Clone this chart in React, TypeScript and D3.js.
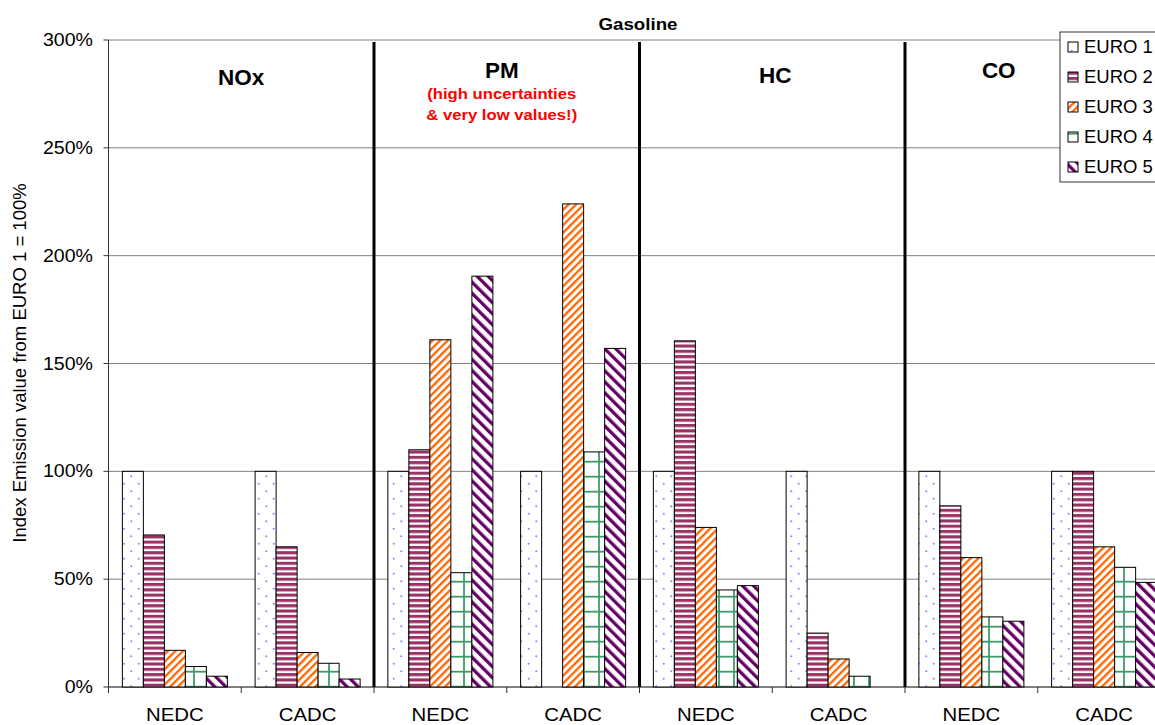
import React from 'react';
import * as d3 from 'd3';

const categories = ['NEDC', 'CADC', 'NEDC', 'CADC', 'NEDC', 'CADC', 'NEDC', 'CADC'];
const groups = ['NOx', 'PM', 'HC', 'CO'];
const series = ['EURO 1', 'EURO 2', 'EURO 3', 'EURO 4', 'EURO 5'];

// % of EURO 1, per category (null = no bar)
const euro1 = [100, 100, 100, 100, 100, 100, 100, 100];
const euro2 = [70.5, 65, 110, null, 160.5, 25, 84, 100];
const euro3 = [17, 16, 161, 224, 74, 13, 60, 65];
const euro4 = [9.5, 11, 53, 109, 45, 5, 32.5, 55.5];
const euro5 = [5, 3.7, 190.5, 157, 47, null, 30.5, 48.5];
const values = [euro1, euro2, euro3, euro4, euro5];

const yTicks = [0, 50, 100, 150, 200, 250, 300];

const font = 'Arial, "Liberation Sans", sans-serif';
const fills = ['url(#p1)', 'url(#p2)', 'url(#p3)', 'url(#p4)', 'url(#p5)'];

// text slightly stretched sideways, like the original export
function SText({ x, y, sx = 1, children, ...rest }: any) {
  return (
    <text transform={`translate(${x},${y}) scale(${sx},1)`} {...rest}>{children}</text>
  );
}

export default function App() {
  const width = 1155;
  const height = 725;
  const left = 108.5;
  const step = 132.75;

  const x = d3.scaleBand<number>()
    .domain(d3.range(categories.length))
    .range([left, left + step * categories.length])
    .padding(0);
  const x1 = d3.scaleBand<string>()
    .domain(series)
    .range([0, x.bandwidth()])
    .paddingInner(0)
    .paddingOuter(0.66);
  const y = d3.scaleLinear().domain([0, 300]).range([687, 40]);

  const groupOffsets = [0, -5, 3, -39];
  const groupBase = [85, 78, 83, 78];
  const pmCenter = (x(2) as number) + step - 5;

  return (
    <svg width={width} height={height} style={{ position: 'absolute', left: 0, top: 0, fontFamily: font }}>
      <defs>
        <pattern id="p1" width={15} height={15} patternUnits="userSpaceOnUse">
          <rect width={15} height={15} fill="#fff" />
          <circle cx={3.75} cy={3.75} r={1.1} fill="#8c8cff" />
          <circle cx={11.25} cy={11.25} r={1.1} fill="#8c8cff" />
        </pattern>
        <pattern id="p2" width={10} height={5.3} patternUnits="userSpaceOnUse">
          <rect width={10} height={5.3} fill="#fff" />
          <rect y={0} width={10} height={3.1} fill="#993366" />
        </pattern>
        <pattern id="p3" width={5.4} height={10} patternUnits="userSpaceOnUse" patternTransform="rotate(45)">
          <rect width={5.4} height={10} fill="#fff" />
          <rect width={2.3} height={10} fill="#ff6600" />
        </pattern>
        <pattern id="p4" width={15} height={15} patternUnits="userSpaceOnUse">
          <rect width={15} height={15} fill="#fff" />
          <line x1={14} x2={14} y1={0} y2={15} stroke="#3f9a6a" strokeWidth={1.8} />
          <line x1={0} x2={15} y1={11.7} y2={11.7} stroke="#3f9a6a" strokeWidth={1.8} />
        </pattern>
        <pattern id="p5" width={7.8} height={10} patternUnits="userSpaceOnUse" patternTransform="rotate(-45)">
          <rect width={7.8} height={10} fill="#fff" />
          <rect width={3.3} height={10} fill="#660066" />
        </pattern>
      </defs>

      {/* horizontal gridlines */}
      {yTicks.map(t => (
        <line key={t} x1={left} x2={width} y1={y(t)} y2={y(t)} stroke={t === 0 ? '#000' : '#808080'} strokeWidth={1} />
      ))}

      {/* y axis */}
      <line x1={left} x2={left} y1={y(300)} y2={y(0)} stroke="#333" strokeWidth={1} />
      {yTicks.map(t => (
        <g key={t}>
          <line x1={left - 5} x2={left} y1={y(t)} y2={y(t)} stroke="#333" />
          <SText x={93} y={y(t)} sx={1.12} dy="0.35em" textAnchor="end" fontSize={17.5}>{t}%</SText>
        </g>
      ))}

      {/* x axis ticks and labels */}
      {d3.range(categories.length + 1).map(i => (
        <line key={i} x1={left + i * step} x2={left + i * step} y1={y(0)} y2={y(0) + 6} stroke="#333" />
      ))}
      {categories.map((c, i) => (
        <SText key={i} x={(x(i) as number) + x.bandwidth() / 2} y={721} sx={1.1} textAnchor="middle" fontSize={18.5}>{c}</SText>
      ))}

      {/* bars */}
      {values.map((vals, s) =>
        vals.map((v, i) => v == null ? null : (
          <rect key={`${s}-${i}`}
            x={(x(i) as number) + (x1(series[s]) as number)}
            y={y(v)}
            width={x1.bandwidth()}
            height={y(0) - y(v)}
            fill={fills[s]}
            stroke="#000"
            strokeWidth={1}
          />
        ))
      )}

      {/* group dividers */}
      {[2, 4, 6].map(i => (
        <line key={i} x1={x(i) as number} x2={x(i) as number} y1={42} y2={y(0)} stroke="#000" strokeWidth={3} />
      ))}

      {/* group titles */}
      {groups.map((g, k) => (
        <text key={g} x={(x(k * 2) as number) + step + groupOffsets[k]} y={groupBase[k]}
          textAnchor="middle" fontSize={22.5} fontWeight="bold">{g}</text>
      ))}
      <SText x={pmCenter} y={99} sx={1.15} textAnchor="middle" fontSize={14.5} fontWeight="bold" fill="#ff0000">(high uncertainties</SText>
      <SText x={pmCenter} y={120} sx={1.15} textAnchor="middle" fontSize={14.5} fontWeight="bold" fill="#ff0000">&amp; very low values!)</SText>

      {/* title */}
      <SText x={638} y={30} sx={1.1} textAnchor="middle" fontSize={17} fontWeight="bold">Gasoline</SText>

      {/* y label */}
      <text transform={`translate(26,${363}) rotate(-90)`} textAnchor="middle" fontSize={18.5}>Index Emission value from EURO 1 = 100%</text>

      {/* legend */}
      <rect x={1060} y={32} width={110} height={150} fill="#fff" stroke="#333" strokeWidth={1} />
      {series.map((s, i) => (
        <g key={s} transform={`translate(1068,${47 + i * 30})`}>
          <rect x={0} y={-5} width={10} height={10} fill={fills[i]} stroke="#000" strokeWidth={1} />
          <text x={16} y={0} dy="0.35em" fontSize={18.5}>{s}</text>
        </g>
      ))}
    </svg>
  );
}
